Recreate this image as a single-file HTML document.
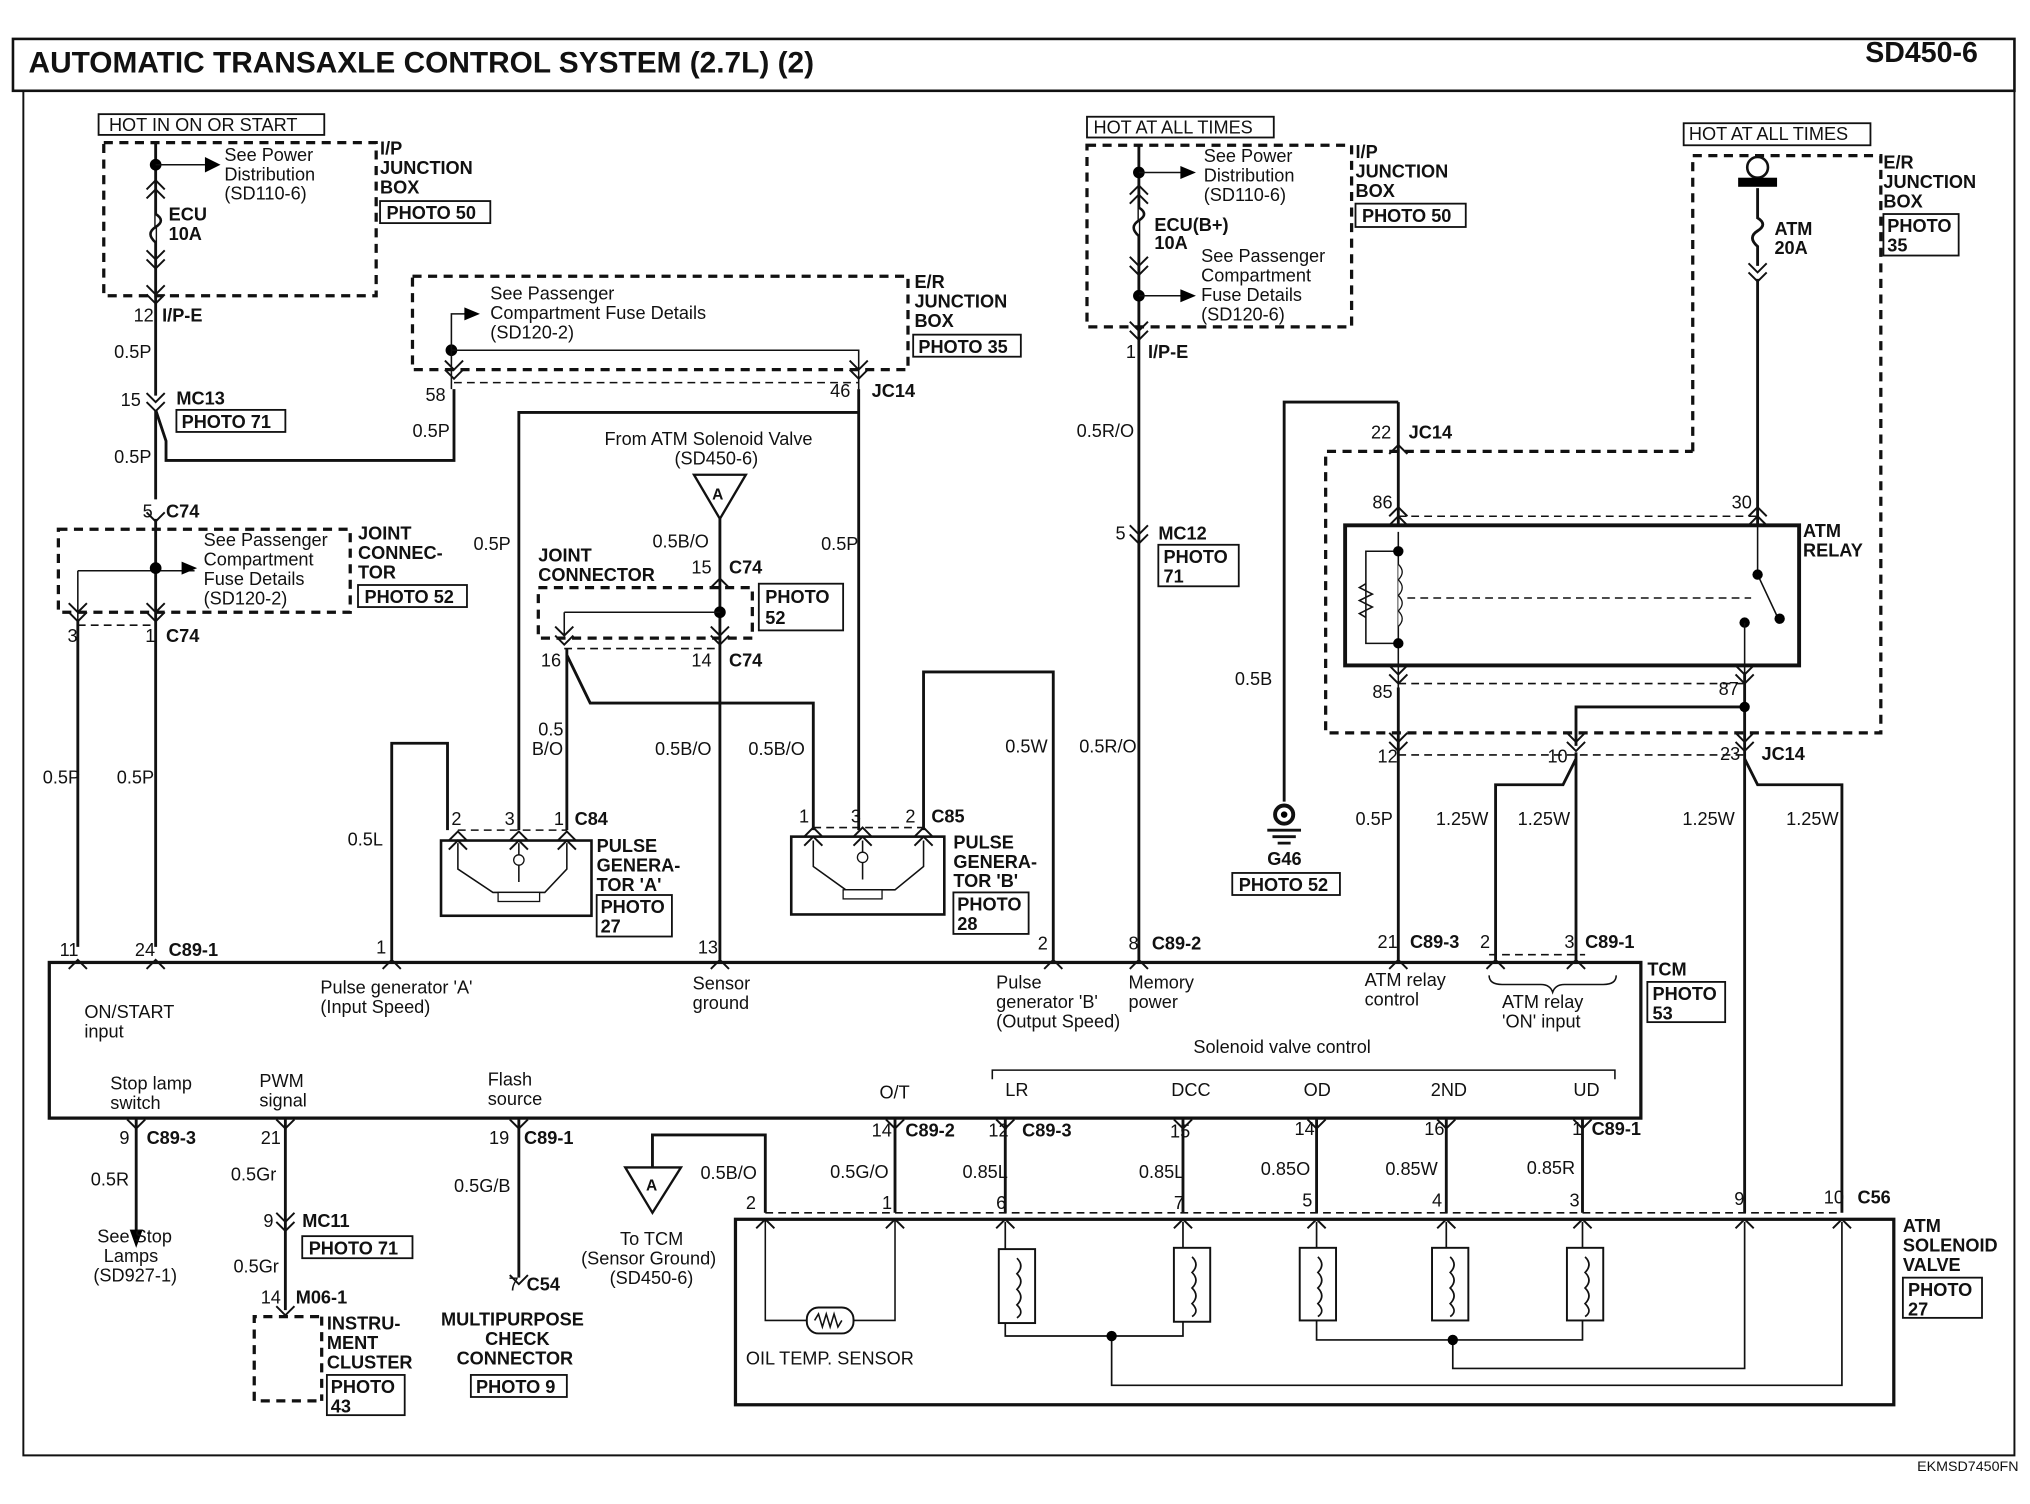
<!DOCTYPE html>
<html><head><meta charset="utf-8"><style>
html,body{margin:0;padding:0;background:#fff;}
svg{display:block;}
text{font-family:"Liberation Sans",sans-serif;font-size:14px;fill:#111;}
.b{font-weight:bold;}
.w{stroke:#111;stroke-width:2.2;fill:none;}
.t{stroke:#111;stroke-width:1.2;fill:none;}
.d{stroke:#111;stroke-width:2.5;fill:none;stroke-dasharray:7,5;}
.dl{stroke:#111;stroke-width:1.2;fill:none;stroke-dasharray:6,4;}
.bx{stroke:#111;stroke-width:1.4;fill:#fff;}
</style></head><body>
<svg width="2030" height="1504" viewBox="0 0 1565 1159.5" preserveAspectRatio="none" xmlns="http://www.w3.org/2000/svg">
<defs>
<path id="dn" d="M-7,-7 L0,0 L7,-7 M-7,0 L0,7 L7,0" fill="none" stroke="#111" stroke-width="1.5"/>
<path id="up" d="M-7,7 L0,0 L7,7 M-7,0 L0,-7 L7,0" fill="none" stroke="#111" stroke-width="1.5"/>
<path id="dn1" d="M-7,-5 L0,2 L7,-5" fill="none" stroke="#111" stroke-width="1.5"/>
<path id="up1" d="M-7,5 L0,-2 L7,5" fill="none" stroke="#111" stroke-width="1.5"/>
</defs>
<!-- frame -->
<rect x="10" y="30" width="1543" height="40" fill="none" stroke="#111" stroke-width="2"/>
<path d="M18,70 V1122 H1553 V70" fill="none" stroke="#111" stroke-width="1.5"/>
<text x="22" y="56" class="b" style="font-size:23px">AUTOMATIC TRANSAXLE CONTROL SYSTEM (2.7L) (2)</text>
<text x="1438" y="48" class="b" style="font-size:22px">SD450-6</text>
<text x="1478" y="1134" style="font-size:11px">EKMSD7450FN</text>

<!-- left fuse box -->
<rect x="76" y="88" width="174" height="16" class="bx"/><text x="84" y="101">HOT IN ON OR START</text>
<rect x="80" y="110" width="210" height="118" class="d"/>
<path d="M120,110 V305" class="w"/>
<circle cx="120" cy="127" r="4.5"/><path d="M120,127 H158" class="t"/><path d="M158,121 L170,127 L158,133Z"/>
<text x="173" y="124">See Power</text><text x="173" y="139">Distribution</text><text x="173" y="154">(SD110-6)</text>
<path d="M120,165 q8,5 0,10 q-8,5 0,12" fill="#fff" stroke="#111" stroke-width="2"/>
<use href="#up" x="120" y="146"/><use href="#dn" x="120" y="200"/><use href="#dn" x="120" y="227"/>
<text x="130" y="170" class="b">ECU</text><text x="130" y="185" class="b">10A</text>
<text x="293" y="119" class="b">I/P</text><text x="293" y="134" class="b">JUNCTION</text><text x="293" y="149" class="b">BOX</text>
<rect x="293" y="155" width="85" height="17" class="bx"/><text x="298" y="169" class="b">PHOTO 50</text>
<text x="103" y="248">12</text><text x="125" y="248" class="b">I/P-E</text>
<text x="88" y="276">0.5P</text>
<text x="93" y="313">15</text><use href="#dn" x="120" y="310"/><text x="136" y="312" class="b">MC13</text>
<rect x="136" y="316" width="84" height="17" class="bx"/><text x="140" y="330" class="b">PHOTO 71</text>
<path d="M120,316 L128,340 V355 H350 V300" class="w"/>
<path d="M120,316 V385" class="w"/>
<text x="88" y="357">0.5P</text>
<text x="110" y="399">5</text><text x="128" y="399" class="b">C74</text>
<use href="#dn1" x="120" y="400"/>
<rect x="45" y="408" width="225" height="64" class="d"/>
<path d="M120,400 V730" class="w"/><path d="M60,478 V730" class="w"/>
<path d="M60,440 H150" class="t"/><circle cx="120" cy="438" r="4.5"/><path d="M140,433 L152,438 L140,443Z"/>
<path d="M60,440 V478" class="t"/>
<use href="#dn" x="60" y="472"/><use href="#dn" x="120" y="472"/>
<path d="M60,482 H120" class="dl"/>
<text x="157" y="421">See Passenger</text><text x="157" y="436">Compartment</text><text x="157" y="451">Fuse Details</text><text x="157" y="466">(SD120-2)</text>
<text x="276" y="416" class="b">JOINT</text><text x="276" y="431" class="b">CONNEC-</text><text x="276" y="446" class="b">TOR</text>
<rect x="276" y="451" width="84" height="17" class="bx"/><text x="281" y="465" class="b">PHOTO 52</text>
<text x="52" y="495">3</text><text x="112" y="495">1</text><text x="128" y="495" class="b">C74</text>
<text x="33" y="604">0.5P</text><text x="90" y="604">0.5P</text>
<text x="46" y="737">11</text><text x="104" y="737">24</text><text x="130" y="737" class="b">C89-1</text>
<use href="#up1" x="60" y="742"/><use href="#up1" x="120" y="742"/>

<!-- middle E/R box -->
<rect x="318" y="213" width="382" height="72" class="d"/>
<text x="378" y="231">See Passenger</text><text x="378" y="246">Compartment Fuse Details</text><text x="378" y="261">(SD120-2)</text>
<circle cx="348" cy="270" r="4.5"/><path d="M348,270 V242 H362" class="t"/><path d="M358,237 L370,242 L358,247Z"/>
<path d="M348,270 H662 V300" class="t"/><path d="M348,270 V300" class="t"/>
<use href="#dn" x="350" y="285"/><use href="#dn" x="662" y="285"/>
<path d="M350,295 H662" class="dl"/>
<text x="705" y="222" class="b">E/R</text><text x="705" y="237" class="b">JUNCTION</text><text x="705" y="252" class="b">BOX</text>
<rect x="704" y="258" width="83" height="17" class="bx"/><text x="708" y="272" class="b">PHOTO 35</text>
<text x="328" y="309">58</text><text x="640" y="306">46</text><text x="672" y="306" class="b">JC14</text>
<text x="318" y="337">0.5P</text>
<path d="M662,300 V640 M400,640 V318 H662" class="w"/>
<text x="365" y="424">0.5P</text><text x="633" y="424">0.5P</text>
<text x="466" y="343">From ATM Solenoid Valve</text><text x="520" y="358">(SD450-6)</text>
<path d="M535,366 H575 L555,400Z" fill="#fff" stroke="#111" stroke-width="1.8"/><text x="549" y="385" class="b" style="font-size:12px">A</text>
<path d="M555,400 V740" class="w"/>
<text x="503" y="422">0.5B/O</text>
<text x="533" y="442">15</text><text x="562" y="442" class="b">C74</text><use href="#up1" x="555" y="448"/>
<rect x="415" y="453" width="165" height="39" class="d"/>
<text x="415" y="433" class="b">JOINT</text><text x="415" y="448" class="b">CONNECTOR</text>
<rect x="585" y="450" width="65" height="36" class="bx"/><text x="590" y="465" class="b">PHOTO</text><text x="590" y="481" class="b">52</text>
<circle cx="555" cy="472" r="4.5"/><path d="M435,472 H555 M435,472 V490" class="t"/>
<use href="#dn" x="435" y="490"/><use href="#dn" x="555" y="490"/>
<path d="M435,500 H555" class="dl"/>
<text x="417" y="514">16</text><text x="533" y="514">14</text><text x="562" y="514" class="b">C74</text>
<path d="M437,500 V640 M437,505 L455,542 H627 V640" class="w"/>
<text x="415" y="567">0.5</text><text x="410" y="582">B/O</text>
<text x="505" y="582">0.5B/O</text><text x="577" y="582">0.5B/O</text>
<!-- PG A -->
<path d="M302,740 V573 H345 V640" class="w"/>
<text x="268" y="652">0.5L</text>
<rect x="340" y="648" width="116" height="58" fill="none" stroke="#111" stroke-width="2"/>
<text x="348" y="636">2</text><text x="389" y="636">3</text><text x="427" y="636">1</text><text x="443" y="636" class="b">C84</text>
<use href="#up" x="353" y="648"/><use href="#up" x="400" y="648"/><use href="#up" x="437" y="648"/>
<path d="M353,640 H437" class="dl"/>
<path d="M353,650 V670 L380,688 H420 L437,670 V650 M400,650 V680" class="t"/><circle cx="400" cy="663" r="4" fill="#fff" stroke="#111"/><rect x="384" y="688" width="32" height="7" fill="#fff" stroke="#111"/>
<text x="460" y="657" class="b">PULSE</text><text x="460" y="672" class="b">GENERA-</text><text x="460" y="687" class="b">TOR 'A'</text>
<rect x="460" y="690" width="58" height="32" class="bx"/><text x="463" y="704" class="b">PHOTO</text><text x="463" y="719" class="b">27</text>
<!-- PG B -->
<rect x="610" y="645" width="118" height="60" fill="none" stroke="#111" stroke-width="2"/>
<text x="616" y="634">1</text><text x="656" y="634">3</text><text x="698" y="634">2</text><text x="718" y="634" class="b">C85</text>
<use href="#up" x="627" y="645"/><use href="#up" x="665" y="645"/><use href="#up" x="712" y="645"/>
<path d="M627,638 H712" class="dl"/>
<path d="M627,648 V668 L652,686 H690 L712,668 V648 M665,648 V678" class="t"/><circle cx="665" cy="661" r="4" fill="#fff" stroke="#111"/><rect x="650" y="686" width="30" height="7" fill="#fff" stroke="#111"/>
<path d="M712,640 V518 H812 V740" class="w"/>
<text x="775" y="580">0.5W</text>
<text x="735" y="654" class="b">PULSE</text><text x="735" y="669" class="b">GENERA-</text><text x="735" y="684" class="b">TOR 'B'</text>
<rect x="735" y="688" width="58" height="32" class="bx"/><text x="738" y="702" class="b">PHOTO</text><text x="738" y="717" class="b">28</text>

<!-- MC12 column -->
<rect x="838" y="90" width="144" height="16" class="bx"/><text x="843" y="103">HOT AT ALL TIMES</text>
<rect x="838" y="112" width="204" height="140" class="d"/>
<path d="M878,112 V740" class="w"/>
<circle cx="878" cy="133" r="4.5"/><path d="M878,133 H912" class="t"/><path d="M910,128 L922,133 L910,138Z"/>
<text x="928" y="125">See Power</text><text x="928" y="140">Distribution</text><text x="928" y="155">(SD110-6)</text>
<use href="#up" x="878" y="150"/><path d="M878,160 q8,5 0,10 q-8,5 0,12" fill="#fff" stroke="#111" stroke-width="2"/><use href="#dn" x="878" y="205"/>
<text x="890" y="178" class="b">ECU(B+)</text><text x="890" y="192" class="b">10A</text>
<text x="926" y="202">See Passenger</text><text x="926" y="217">Compartment</text><text x="926" y="232">Fuse Details</text><text x="926" y="247">(SD120-6)</text>
<circle cx="878" cy="228" r="4.5"/><path d="M878,228 H912" class="t"/><path d="M910,223 L922,228 L910,233Z"/>
<use href="#dn" x="878" y="255"/>
<text x="1045" y="122" class="b">I/P</text><text x="1045" y="137" class="b">JUNCTION</text><text x="1045" y="152" class="b">BOX</text>
<rect x="1045" y="157" width="85" height="18" class="bx"/><text x="1050" y="171" class="b">PHOTO 50</text>
<text x="868" y="276">1</text><text x="885" y="276" class="b">I/P-E</text>
<text x="830" y="337">0.5R/O</text>
<text x="860" y="416">5</text><use href="#dn" x="878" y="412"/><text x="893" y="416" class="b">MC12</text>
<rect x="893" y="420" width="62" height="32" class="bx"/><text x="897" y="434" class="b">PHOTO</text><text x="897" y="449" class="b">71</text>
<text x="832" y="580">0.5R/O</text>
<text x="870" y="732">8</text><text x="888" y="732" class="b">C89-2</text><use href="#up1" x="878" y="742"/>

<!-- G46 -->
<path d="M990,618 V310 H1078" class="w"/>
<text x="952" y="528">0.5B</text>
<circle cx="990" cy="628" r="7" fill="none" stroke="#111" stroke-width="3"/><circle cx="990" cy="628" r="2.5"/>
<path d="M977,640 H1003 M981,645 H999 M985,650 H995" class="w"/>
<text x="977" y="667" class="b">G46</text>
<rect x="950" y="673" width="83" height="17" class="bx"/><text x="955" y="687" class="b">PHOTO 52</text>

<!-- right relay -->
<rect x="1298" y="95" width="144" height="17" class="bx"/><text x="1302" y="108">HOT AT ALL TIMES</text>
<path d="M1305,348 V120 H1450 V565 H1022 V348 H1305" class="d"/>
<circle cx="1355" cy="129" r="8" fill="none" stroke="#111" stroke-width="2"/><rect x="1340" y="137" width="30" height="7"/>
<path d="M1355,145 V168 q8,5 0,10 q-8,5 0,12 V205" class="w"/><use href="#dn" x="1355" y="210"/>
<text x="1368" y="181" class="b">ATM</text><text x="1368" y="196" class="b">20A</text>
<path d="M1355,215 V405" class="w"/>
<text x="1452" y="130" class="b">E/R</text><text x="1452" y="145" class="b">JUNCTION</text><text x="1452" y="160" class="b">BOX</text>
<rect x="1452" y="165" width="58" height="32" class="bx"/><text x="1455" y="179" class="b">PHOTO</text><text x="1455" y="194" class="b">35</text>
<text x="1057" y="338">22</text><text x="1086" y="338" class="b">JC14</text>
<path d="M1078,310 V405" class="w"/><use href="#up1" x="1078" y="345"/><use href="#up" x="1078" y="398"/><use href="#up" x="1355" y="398"/>
<text x="1058" y="392">86</text><text x="1335" y="392">30</text>
<path d="M1078,398 H1355" class="dl"/>
<rect x="1037" y="405" width="350" height="108" fill="none" stroke="#111" stroke-width="3"/>
<text x="1390" y="414" class="b">ATM</text><text x="1390" y="429" class="b">RELAY</text>
<path d="M1078,410 V540" class="t"/>
<path d="M1078,425 H1053 V496 H1078" class="t"/>
<path d="M1053,450 l-5,3 l10,5 l-10,5 l10,5 l-10,5 l5,3" class="t"/>
<circle cx="1078" cy="425" r="4"/><circle cx="1078" cy="496" r="4"/>
<path d="M1078,435 q6,6 0,12 q6,6 0,12 q6,6 0,12 q6,6 0,12" fill="#fff" stroke="#111"/>
<path d="M1085,461 H1350" class="dl"/>
<path d="M1355,405 V443 L1370,475" class="t"/><circle cx="1355" cy="443" r="4"/><circle cx="1372" cy="477" r="4"/><circle cx="1345" cy="480" r="4"/>
<path d="M1345,480 V540" class="t"/>
<use href="#dn" x="1078" y="520"/><use href="#dn" x="1345" y="520"/>
<path d="M1078,527 H1345" class="dl"/>
<text x="1058" y="538">85</text><text x="1325" y="536">87</text>
<path d="M1078,530 V740 M1345,520 V935 M1345,545 H1215 V575" class="w"/>
<circle cx="1345" cy="545" r="4"/>
<use href="#dn" x="1078" y="572"/><use href="#dn" x="1215" y="572"/><use href="#dn" x="1345" y="572"/>
<path d="M1078,582 H1345" class="dl"/>
<text x="1062" y="588">12</text><text x="1193" y="588">10</text><text x="1326" y="586">23</text><text x="1358" y="586" class="b">JC14</text>
<path d="M1215,580 V740 M1215,585 L1205,605 H1153 V740 M1345,585 L1355,605 H1420 V935" class="w"/>
<text x="1045" y="636">0.5P</text><text x="1107" y="636">1.25W</text><text x="1170" y="636">1.25W</text><text x="1297" y="636">1.25W</text><text x="1377" y="636">1.25W</text>
<text x="1062" y="731">21</text><text x="1087" y="731" class="b">C89-3</text>
<text x="1141" y="731">2</text><text x="1206" y="731">3</text><text x="1222" y="731" class="b">C89-1</text>
<use href="#up1" x="1078" y="742"/><use href="#up1" x="1153" y="742"/><use href="#up1" x="1215" y="742"/>
<path d="M1148,736 H1222" class="dl"/>
<use href="#up1" x="302" y="742"/><use href="#up1" x="555" y="742"/><use href="#up1" x="812" y="742"/>
<text x="290" y="735">1</text><text x="538" y="735">13</text><text x="800" y="732">2</text>

<!-- TCM -->
<rect x="38" y="742" width="1227" height="120" fill="none" stroke="#111" stroke-width="2.5"/>
<text x="65" y="785">ON/START</text><text x="65" y="800">input</text>
<text x="247" y="766">Pulse generator 'A'</text><text x="247" y="781">(Input Speed)</text>
<text x="534" y="763">Sensor</text><text x="534" y="778">ground</text>
<text x="768" y="762">Pulse</text><text x="768" y="777">generator 'B'</text><text x="768" y="792">(Output Speed)</text>
<text x="870" y="762">Memory</text><text x="870" y="777">power</text>
<text x="1052" y="760">ATM relay</text><text x="1052" y="775">control</text>
<path d="M1148,752 q0,7 10,7 h30 q7,0 9,6 q2,-6 9,-6 h30 q10,0 10,-7" class="t"/>
<text x="1158" y="777">ATM relay</text><text x="1158" y="792">'ON' input</text>
<text x="1270" y="752" class="b">TCM</text>
<rect x="1270" y="757" width="60" height="31" class="bx"/><text x="1274" y="771" class="b">PHOTO</text><text x="1274" y="786" class="b">53</text>
<text x="920" y="812">Solenoid valve control</text>
<path d="M765,832 V825 H1245 V832" class="t"/>
<text x="678" y="847">O/T</text><text x="775" y="845">LR</text><text x="903" y="845">DCC</text><text x="1005" y="845">OD</text><text x="1103" y="845">2ND</text><text x="1213" y="845">UD</text>
<text x="85" y="840">Stop lamp</text><text x="85" y="855">switch</text>
<text x="200" y="838">PWM</text><text x="200" y="853">signal</text>
<text x="376" y="837">Flash</text><text x="376" y="852">source</text>

<!-- bottom left -->
<use href="#dn1" x="105" y="868"/><path d="M105,862 V950" class="w"/><path d="M100,948 L105,962 L110,948Z"/>
<text x="92" y="882">9</text><text x="113" y="882" class="b">C89-3</text>
<text x="70" y="914">0.5R</text>
<text x="75" y="958">See Stop</text><text x="80" y="973">Lamps</text><text x="72" y="988">(SD927-1)</text>
<use href="#dn1" x="220" y="868"/><path d="M220,862 V1010" class="w"/>
<text x="201" y="882">21</text><text x="178" y="910">0.5Gr</text>
<text x="203" y="946">9</text><use href="#dn" x="220" y="942"/><text x="233" y="946" class="b">MC11</text>
<rect x="233" y="953" width="85" height="17" class="bx"/><text x="238" y="967" class="b">PHOTO 71</text>
<text x="180" y="981">0.5Gr</text>
<text x="201" y="1005">14</text><text x="228" y="1005" class="b">M06-1</text><use href="#dn1" x="220" y="1012"/>
<path d="M246,1015 H196 V1080 H246" class="d"/><path d="M248,1015 V1080" class="d"/>
<text x="252" y="1025" class="b">INSTRU-</text><text x="252" y="1040" class="b">MENT</text><text x="252" y="1055" class="b">CLUSTER</text>
<rect x="252" y="1060" width="60" height="31" class="bx"/><text x="255" y="1074" class="b">PHOTO</text><text x="255" y="1089" class="b">43</text>
<use href="#dn1" x="400" y="868"/><path d="M400,862 V985" class="w"/><use href="#dn1" x="400" y="988"/>
<text x="377" y="882">19</text><text x="404" y="882" class="b">C89-1</text>
<text x="350" y="919">0.5G/B</text>
<text x="392" y="995">7</text><text x="406" y="995" class="b">C54</text>
<text x="340" y="1022" class="b">MULTIPURPOSE</text><text x="374" y="1037" class="b">CHECK</text><text x="352" y="1052" class="b">CONNECTOR</text>
<rect x="363" y="1060" width="74" height="17" class="bx"/><text x="367" y="1074" class="b">PHOTO 9</text>

<!-- solenoid side -->
<path d="M503,900 V875 H590 V935" class="w"/>
<path d="M482,900 H525 L503,935Z" fill="#fff" stroke="#111" stroke-width="1.8"/><text x="498" y="918" class="b" style="font-size:12px">A</text>
<text x="540" y="909">0.5B/O</text>
<text x="478" y="960">To TCM</text><text x="448" y="975">(Sensor Ground)</text><text x="470" y="990">(SD450-6)</text>
<path d="M690,862 V935 M775,862 V935 M912,862 V935 M1015,862 V935 M1115,862 V935 M1220,862 V935" class="w"/>
<use href="#dn1" x="690" y="868"/><use href="#dn1" x="775" y="868"/><use href="#dn1" x="912" y="868"/><use href="#dn1" x="1015" y="868"/><use href="#dn1" x="1115" y="868"/><use href="#dn1" x="1220" y="868"/>
<text x="672" y="876">14</text><text x="698" y="876" class="b">C89-2</text>
<text x="762" y="876">12</text><text x="788" y="876" class="b">C89-3</text>
<text x="902" y="877">15</text><text x="998" y="875">14</text><text x="1098" y="875">16</text>
<text x="1212" y="875">1</text><text x="1227" y="875" class="b">C89-1</text>
<text x="640" y="908">0.5G/O</text><text x="742" y="908">0.85L</text><text x="878" y="908">0.85L</text><text x="972" y="906">0.85O</text><text x="1068" y="906">0.85W</text><text x="1177" y="905">0.85R</text>
<text x="575" y="932">2</text><text x="680" y="932">1</text><text x="768" y="932">6</text><text x="905" y="932">7</text><text x="1004" y="930">5</text><text x="1104" y="930">4</text><text x="1210" y="930">3</text><text x="1337" y="929">9</text><text x="1406" y="928">10</text><text x="1432" y="928" class="b">C56</text>
<path d="M590,935 H1420" class="dl"/>
<rect x="567" y="940" width="893" height="143" fill="none" stroke="#111" stroke-width="2.5"/>
<use href="#up1" x="590" y="942"/><use href="#up1" x="690" y="942"/><use href="#up1" x="775" y="942"/><use href="#up1" x="912" y="942"/><use href="#up1" x="1015" y="942"/><use href="#up1" x="1115" y="942"/><use href="#up1" x="1220" y="942"/><use href="#up1" x="1345" y="942"/><use href="#up1" x="1420" y="942"/>
<path d="M590,940 V1018 H622 M658,1018 H690 V940" class="t"/>
<rect x="622" y="1008" width="36" height="20" rx="9" fill="#fff" stroke="#111" stroke-width="1.5"/>
<path d="M628,1018 l3,-5 l3,10 l3,-10 l3,10 l3,-10 l3,10 l3,-5" class="t"/>
<text x="575" y="1052">OIL TEMP. SENSOR</text>
<g fill="#fff" stroke="#111" stroke-width="1.5">
<rect x="770" y="963" width="28" height="57"/><rect x="905" y="962" width="28" height="57"/><rect x="1002" y="962" width="28" height="56"/><rect x="1104" y="962" width="28" height="56"/><rect x="1208" y="962" width="28" height="56"/>
</g>
<g fill="none" stroke="#111" stroke-width="1.3">
<path d="M784,970 q6,6 0,12 q6,6 0,12 q6,6 0,12 q6,6 0,10"/><path d="M919,969 q6,6 0,12 q6,6 0,12 q6,6 0,12 q6,6 0,10"/><path d="M1016,969 q6,6 0,12 q6,6 0,12 q6,6 0,12 q6,6 0,10"/><path d="M1118,969 q6,6 0,12 q6,6 0,12 q6,6 0,12 q6,6 0,10"/><path d="M1222,969 q6,6 0,12 q6,6 0,12 q6,6 0,12 q6,6 0,10"/>
<path d="M775,942 V963 M912,942 V962 M1015,942 V962 M1115,942 V962 M1220,942 V962"/>
<path d="M775,1020 V1030 H912 V1019"/><path d="M1015,1018 V1033 H1220 V1018"/>
<path d="M857,1030 V1068 H1420 V942"/><path d="M1120,1033 V1055 H1345 V942"/>
</g>
<circle cx="857" cy="1030" r="4"/><circle cx="1120" cy="1033" r="4"/>
<text x="1467" y="950" class="b">ATM</text><text x="1467" y="965" class="b">SOLENOID</text><text x="1467" y="980" class="b">VALVE</text>
<rect x="1467" y="985" width="61" height="31" class="bx"/><text x="1471" y="999" class="b">PHOTO</text><text x="1471" y="1014" class="b">27</text>
</svg>
</body></html>
